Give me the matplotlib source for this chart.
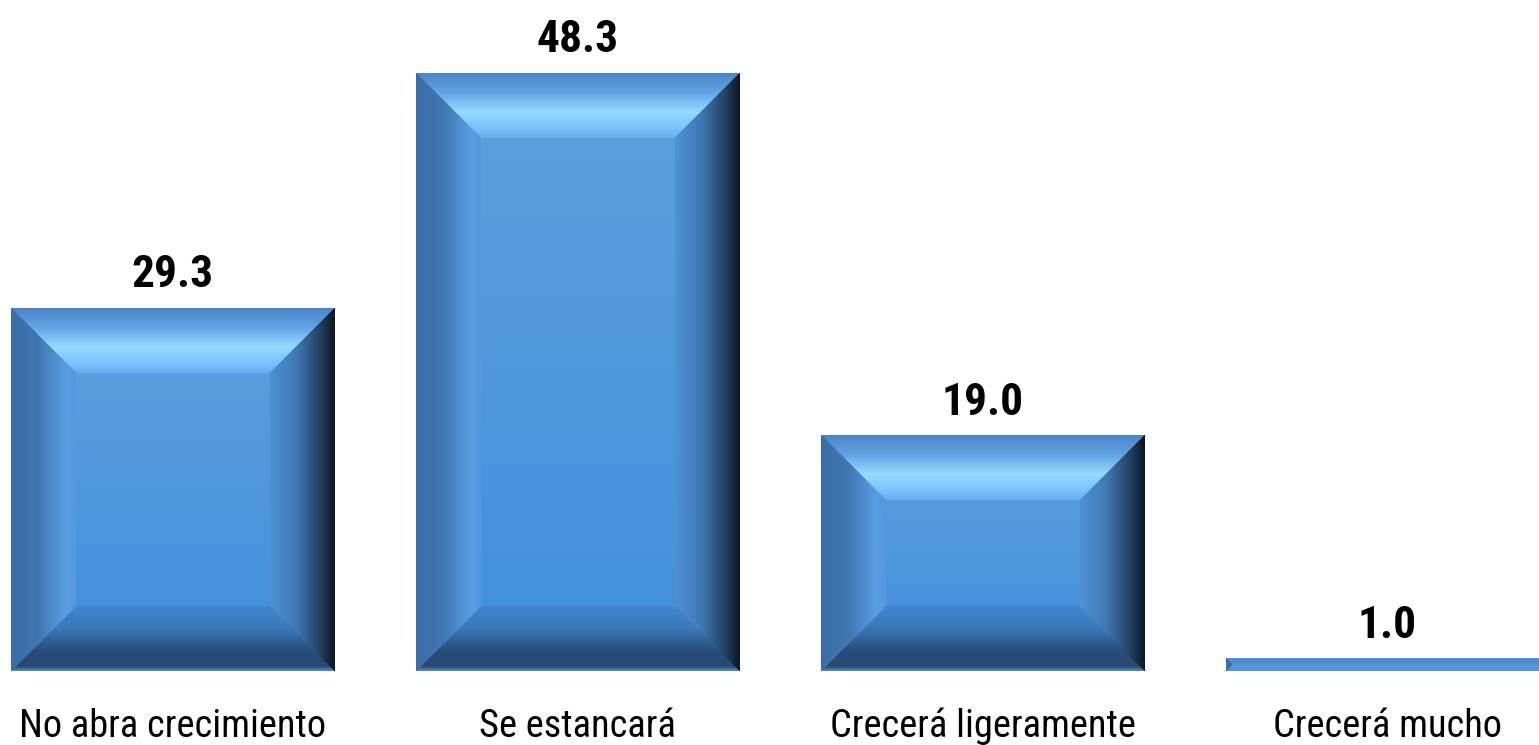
import numpy as np
import matplotlib
matplotlib.use("Agg")
import matplotlib.pyplot as plt
from matplotlib import font_manager as fm
from matplotlib.font_manager import FontProperties

categories = ["No abra crecimiento", "Se estancará", "Crecerá ligeramente", "Crecerá mucho"]
values = [29.3, 48.3, 19.0, 1.0]
value_labels = ["29.3", "48.3", "19.0", "1.0"]


def pick_font(bold):
    want_w = 700 if bold else 400
    prefs = ["Liberation Sans Narrow", "Arial Narrow", "Roboto Condensed",
             "Open Sans Condensed", "Noto Sans Condensed", "DejaVu Sans Condensed"]
    cands = []
    for f in fm.fontManager.ttflist:
        narrow = ("Narrow" in f.name or "Condensed" in f.name or
                  str(f.stretch) in ("condensed", "semi-condensed", "extra-condensed"))
        if not narrow or "Mono" in f.name or "Serif" in f.name:
            continue
        if "Italic" in f.fname or "Oblique" in f.fname or f.style != "normal":
            continue
        w = f.weight if isinstance(f.weight, int) else (700 if "bold" in str(f.weight) else 400)
        rank = next((i for i, p in enumerate(prefs) if p in f.name or p in f.fname), len(prefs))
        cands.append((rank, abs(w - want_w), f.fname))
    if cands:
        cands.sort()
        return FontProperties(fname=cands[0][2])
    return FontProperties(family="Liberation Sans", weight="bold" if bold else "normal")


FP_REG = pick_font(False)
FP_BOLD = pick_font(True)

W, H, DPI = 1539, 745, 100
fig = plt.figure(figsize=(W / DPI, H / DPI), dpi=DPI)
base_px = 671
ax = fig.add_axes([0, (H - base_px) / H, 1, base_px / H])
px_per_unit = 12.38
spacing_px = 405.0
ax.axis("off")

bar_w = 0.8
bevel_px = 65


def interp(stops, t):
    ts = np.array([s[0] for s in stops])
    cols = np.array([s[1] for s in stops])
    out = np.zeros(t.shape + (3,))
    for c in range(3):
        out[..., c] = np.interp(t, ts, cols[:, c])
    return out


top_stops = [(0, (0.29, 0.52, 0.78)), (0.3, (0.38, 0.64, 0.90)), (0.6, (0.58, 0.86, 1.0)),
             (0.85, (0.48, 0.76, 0.98)), (1, (0.40, 0.68, 0.93))]
bot_stops = [(0, (0.33, 0.57, 0.83)), (0.07, (0.16, 0.29, 0.44)), (0.3, (0.15, 0.30, 0.47)),
             (0.65, (0.23, 0.47, 0.72)), (1, (0.25, 0.53, 0.82))]
left_stops = [(0, (0.23, 0.43, 0.65)), (0.4, (0.25, 0.46, 0.69)), (0.85, (0.35, 0.62, 0.89)),
              (1, (0.33, 0.60, 0.88))]
right_stops = [(0, (0.04, 0.09, 0.15)), (0.25, (0.14, 0.27, 0.41)), (0.6, (0.25, 0.48, 0.71)),
               (1, (0.31, 0.57, 0.84))]


def bevel_image(wpx, hpx):
    wpx = max(int(round(wpx)), 2)
    hpx = max(int(round(hpx)), 2)
    yy, xx = np.mgrid[0:hpx, 0:wpx].astype(float)
    dl = xx + 0.5
    dr = wpx - xx - 0.5
    dt = yy + 0.5
    db = hpx - yy - 0.5
    d = np.stack([dl, dr, dt, db])
    idx = np.argmin(d, axis=0)
    dmin = d.min(axis=0)
    b = bevel_px
    t = np.clip(dmin / b, 0, 1)
    ty = yy / max(hpx - 1, 1)
    c0 = np.array((0.37, 0.63, 0.87))
    c1 = np.array((0.25, 0.56, 0.86))
    img = c0 + (c1 - c0) * ty[..., None]
    inb = dmin < b
    small = hpx < 2 * b
    for k, st in enumerate([left_stops, right_stops, top_stops, bot_stops]):
        m = inb & (idx == k)
        if small and k >= 2:
            # very short bar: flat face, only the side tips are bevelled
            img[m] = np.array((0.31, 0.56, 0.82)) if k == 2 else np.array((0.34, 0.59, 0.85))
            continue
        if m.any():
            img[m] = interp(st, t[m])
    return img


texts_val = []
texts_cat = []
for i, (v, lab) in enumerate(zip(values, value_labels)):
    hpx = v * px_per_unit
    img = bevel_image(bar_w * spacing_px, hpx)
    ax.imshow(img, extent=(i - bar_w / 2, i + bar_w / 2, 0, v), aspect="auto",
              interpolation="bilinear", zorder=2)
    tv = ax.annotate(lab, (i, v), xytext=(0, 21 * 72 / DPI), textcoords="offset points",
                     ha="center", va="baseline", fontproperties=FP_BOLD, fontsize=37,
                     color="black", annotation_clip=False)
    tc = ax.annotate(categories[i], (i, 0), xytext=(0, -66 * 72 / DPI), textcoords="offset points",
                     ha="center", va="baseline", fontproperties=FP_REG, fontsize=29.5,
                     color="black", annotation_clip=False)
    texts_val.append(tv)
    texts_cat.append(tc)

ax.set_xlim(-172.5 / spacing_px, (W - 172.5) / spacing_px)
ax.set_ylim(0, base_px / px_per_unit)

# fit font sizes so text widths match the reference
fig.canvas.draw()
r = fig.canvas.get_renderer()
w_val = texts_val[1].get_window_extent(r).width
w_cat = texts_cat[0].get_window_extent(r).width
s_val = 37 * 82.0 / w_val
s_cat = 29.5 * 307.0 / w_cat
s_val = min(s_val, 40)
s_cat = min(s_cat, 31)
for t in texts_val:
    t.set_fontsize(s_val)
for t in texts_cat:
    t.set_fontsize(s_cat)

fig.savefig("out.png", dpi=DPI)
